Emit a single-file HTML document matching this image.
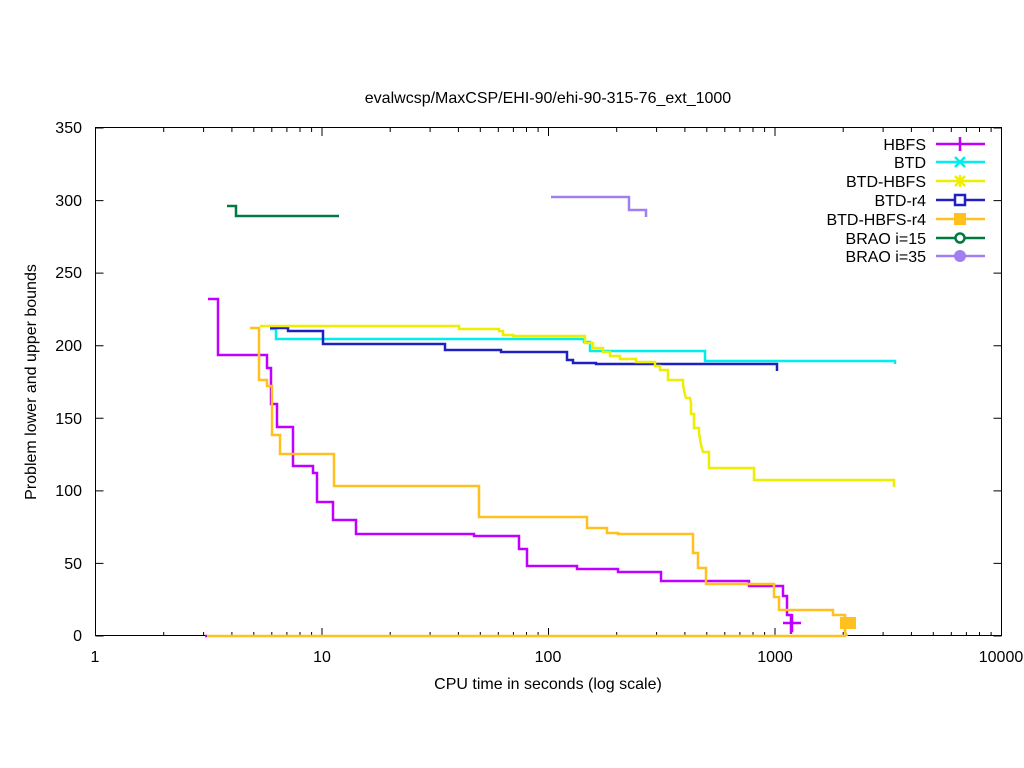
<!DOCTYPE html>
<html><head><meta charset="utf-8"><style>body{margin:0;background:#fff}svg{display:block}</style></head><body>
<svg width="1024" height="768" viewBox="0 0 1024 768" xmlns="http://www.w3.org/2000/svg" font-family="Liberation Sans, sans-serif" font-size="16">
<rect width="1024" height="768" fill="#fff"/>
<text x="548" y="103" text-anchor="middle">evalwcsp/MaxCSP/EHI-90/ehi-90-315-76_ext_1000</text>
<g stroke="#000" stroke-width="1" fill="none">
<rect x="95.5" y="127.5" width="906" height="508"/>
<path d="M95.5 636h8M1001.5 636h-8M95.5 563.4h8M1001.5 563.4h-8M95.5 490.9h8M1001.5 490.9h-8M95.5 418.3h8M1001.5 418.3h-8M95.5 345.7h8M1001.5 345.7h-8M95.5 273.1h8M1001.5 273.1h-8M95.5 200.6h8M1001.5 200.6h-8M95.5 128h8M1001.5 128h-8"/>
<path d="M95.5 636v-8M95.5 128v8M163.7 636v-4M163.7 128v4M203.6 636v-4M203.6 128v4M231.9 636v-4M231.9 128v4M253.8 636v-4M253.8 128v4M271.8 636v-4M271.8 128v4M286.9 636v-4M286.9 128v4M300 636v-4M300 128v4M311.6 636v-4M311.6 128v4M322 636v-8M322 128v8
M390.2 636v-4M390.2 128v4M430.1 636v-4M430.1 128v4M458.4 636v-4M458.4 128v4M480.3 636v-4M480.3 128v4M498.3 636v-4M498.3 128v4M513.4 636v-4M513.4 128v4M526.5 636v-4M526.5 128v4M538.1 636v-4M538.1 128v4M548.5 636v-8M548.5 128v8
M616.7 636v-4M616.7 128v4M656.6 636v-4M656.6 128v4M684.9 636v-4M684.9 128v4M706.8 636v-4M706.8 128v4M724.8 636v-4M724.8 128v4M739.9 636v-4M739.9 128v4M753 636v-4M753 128v4M764.6 636v-4M764.6 128v4M775 636v-8M775 128v8
M843.2 636v-4M843.2 128v4M883.1 636v-4M883.1 128v4M911.4 636v-4M911.4 128v4M933.3 636v-4M933.3 128v4M951.3 636v-4M951.3 128v4M966.4 636v-4M966.4 128v4M979.5 636v-4M979.5 128v4M991.1 636v-4M991.1 128v4M1001.5 636v-8M1001.5 128v8"/>
</g>
<g text-anchor="end">
<text x="82" y="641">0</text><text x="82" y="569">50</text><text x="82" y="496">100</text><text x="82" y="424">150</text><text x="82" y="351">200</text><text x="82" y="278">250</text><text x="82" y="206">300</text><text x="82" y="133">350</text>
</g>
<g text-anchor="middle">
<text x="95" y="662">1</text><text x="322" y="662">10</text><text x="548" y="662">100</text><text x="775" y="662">1000</text><text x="1001" y="662">10000</text>
<text x="548" y="689">CPU time in seconds (log scale)</text>
<text transform="translate(36,382) rotate(-90)">Problem lower and upper bounds</text>
</g>
<g fill="none" stroke-width="2.5">
<path stroke="#ffc020" d="M205 636H846"/>
<path stroke="#c000ff" d="M205 636h2"/>
<path stroke="#007a40" d="M227 206h9v10h103"/>
<path stroke="#a080f0" d="M551 197h78v13h17v7"/>
<path stroke="#00eeee" d="M270 329h6v10h308v3h6v9h115v10h190v3"/>
<path stroke="#2020c0" d="M270 328h18v3h35v13h122v6h56v2h66v8h6v3h23v1h181v7"/>
<path stroke="#eeee00" d="M260 326h199v3h40v2h4v4h10v1h72v7h8v5h10v4h7v4h10v3h16v3h19v4h5v4h8v10h15v4l1 6 1 5 1 3h4l1 5v11h3v14h5v5l2 12 2 7h6v16h45v12h140v7"/>
<path stroke="#c000ff" d="M208 299h10v56h49v13h4v36h6v23h16v39h20v7h4v29h16v18h23v14h118v2h45v13h8v17h50v3h41v3h43v9h88v5h34v10h4v19h4v19"/>
<path stroke="#ffc020" d="M250 328h9v52h8v6h5v49h8v19h54v32h145v31h108v11h20v5h11v1h75v19h5v15h8v16h68v13h5v13h54v5h12v17l2 4"/>
</g>
<g stroke-width="2.5" fill="none">
<path stroke="#c000ff" d="M783 623h18M792 614v18"/>
</g>
<rect x="840" y="617" width="16" height="12" fill="#ffc020"/>
<g text-anchor="end">
<text x="926" y="150">HBFS</text><text x="926" y="168">BTD</text><text x="926" y="187">BTD-HBFS</text><text x="926" y="206">BTD-r4</text><text x="926" y="225">BTD-HBFS-r4</text><text x="926" y="244">BRAO i=15</text><text x="926" y="262">BRAO i=35</text>
</g>
<g stroke-width="2.5" fill="none">
<path stroke="#c000ff" d="M936 144h49M960 137v14"/>
<path stroke="#00eeee" d="M936 162h49M955 157l10 10M965 157l-10 10"/>
<path stroke="#eeee00" d="M936 181h49M955 176l10 10M965 176l-10 10M960 175v12"/>
<path stroke="#2020c0" d="M936 200h49"/><rect x="955" y="195" width="10" height="10" stroke="#2020c0" fill="#fff" stroke-width="2.5"/>
<path stroke="#ffc020" d="M936 219h49"/>
<path stroke="#007a40" d="M936 238h49"/><circle cx="960" cy="238" r="4.5" stroke="#007a40" fill="#fff" stroke-width="2.5"/>
<path stroke="#a080f0" d="M936 256h49"/>
</g>
<rect x="954" y="213" width="12" height="12" fill="#ffc020"/>
<circle cx="960" cy="256" r="6" fill="#a080f0"/>
</svg>
</body></html>
